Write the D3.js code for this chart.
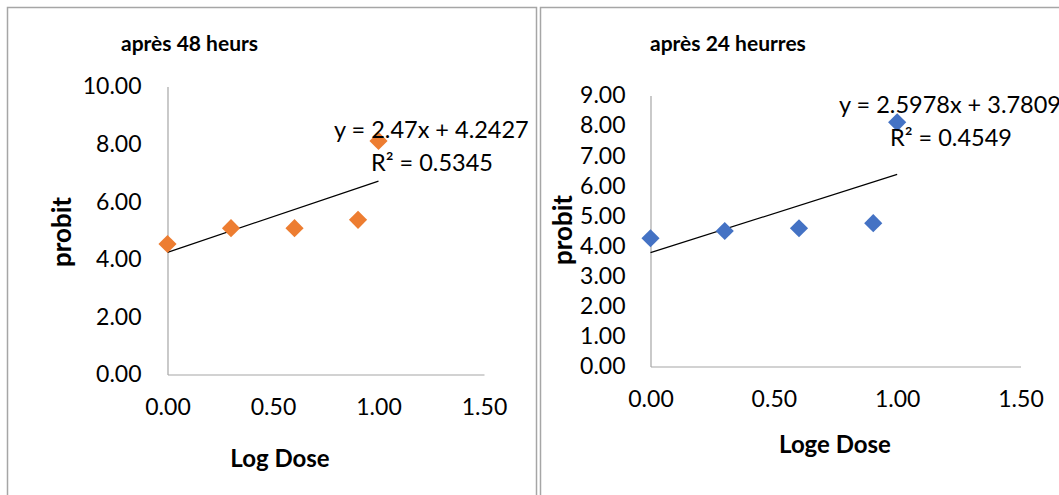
<!DOCTYPE html>
<html>
<head>
<meta charset="utf-8">
<script src="https://cdn.jsdelivr.net/npm/d3@7"></script>
<style>
  body { margin: 0; background: #fff; }
  svg text { font-family: Lato, "Open Sans", sans-serif; fill: #000; }
</style>
</head>
<body>
<div id="chart"></div>
<script>
// log doses (log10 of 1, 2, 4, 8, 10)
const logDose = [0, 0.301, 0.602, 0.903, 1.0];
const probit48 = [4.53, 5.08, 5.08, 5.37, 8.11];
const probit24 = [4.26, 4.50, 4.59, 4.76, 8.11];
const xTicks = [0, 0.5, 1.0, 1.5];
const yTicks48 = [0, 2, 4, 6, 8, 10];
const yTicks24 = [0, 1, 2, 3, 4, 5, 6, 7, 8, 9];
const trend48 = [2.47, 4.2427];
const trend24 = [2.5978, 3.7809];
const eqLabels48 = ['y = 2.47x + 4.2427', 'R² = 0.5345'];
const eqLabels24 = ['y = 2.5978x + 3.7809', 'R² = 0.4549'];

const W = 1059, H = 495;
const fmt = d3.format('.2f');

const svg = d3.select('#chart')
  .append('svg')
  .attr('width', W)
  .attr('height', H);

// panel frames
svg.append('path')
  .attr('d', 'M7.5,495 V7.5 H536.5 V495')
  .attr('fill', 'none')
  .attr('stroke', '#a6a6a6')
  .attr('stroke-width', 1.5);
svg.append('path')
  .attr('d', 'M540.5,495 V7.5 H1059')
  .attr('fill', 'none')
  .attr('stroke', '#a6a6a6')
  .attr('stroke-width', 1.5);

function drawPanel(cfg) {
  const g = svg.append('g');

  const x = d3.scaleLinear().domain([0, 1.5]).range([cfg.x0, cfg.x1]);
  const y = d3.scaleLinear().domain([0, cfg.yMax]).range([cfg.y0, cfg.y1]);

  // y axis
  const yAxis = g.append('g')
    .attr('transform', `translate(${cfg.x0},0)`)
    .call(d3.axisLeft(y).tickValues(cfg.yTicks).tickFormat(fmt).tickSize(0).tickPadding(cfg.yPad));
  yAxis.select('.domain').attr('stroke', '#a6a6a6').attr('stroke-width', 1.2);
  yAxis.selectAll('text').style('font-size', '23px');

  // x axis
  const xAxis = g.append('g')
    .attr('transform', `translate(0,${cfg.y0})`)
    .call(d3.axisBottom(x).tickValues(xTicks).tickFormat(fmt).tickSize(0).tickPadding(cfg.xPad));
  xAxis.select('.domain').attr('stroke', '#a6a6a6').attr('stroke-width', 1.2);
  xAxis.selectAll('text').style('font-size', '23px');

  // trend line from min to max dose
  const ext = d3.extent(logDose);
  g.append('line')
    .attr('x1', x(ext[0]))
    .attr('y1', y(cfg.trend[0] * ext[0] + cfg.trend[1]))
    .attr('x2', x(ext[1]))
    .attr('y2', y(cfg.trend[0] * ext[1] + cfg.trend[1]))
    .attr('stroke', '#000')
    .attr('stroke-width', 1.2);

  // markers
  const diamond = d3.symbol().type(d3.symbolSquare).size(165);
  g.selectAll('path.pt')
    .data(logDose.map((d, i) => [d, cfg.values[i]]))
    .enter().append('path')
      .attr('class', 'pt')
      .attr('d', diamond)
      .attr('transform', d => `translate(${x(d[0])},${y(d[1])}) rotate(45)`)
      .attr('fill', cfg.color);

  // equation labels
  g.append('text')
    .attr('x', cfg.eqX).attr('y', cfg.eqY)
    .attr('dominant-baseline', 'central')
    .style('font-size', '23.5px')
    .text(cfg.labels[0]);
  g.append('text')
    .attr('x', cfg.r2X).attr('y', cfg.r2Y)
    .attr('dominant-baseline', 'central')
    .style('font-size', '23.5px')
    .text(cfg.labels[1]);

  // titles
  g.append('text')
    .attr('x', cfg.titleX).attr('y', 42)
    .attr('dominant-baseline', 'central')
    .style('font-size', '21px')
    .style('font-weight', 'bold')
    .text(cfg.title);
  g.append('text')
    .attr('x', cfg.xTitleX).attr('y', cfg.xTitleY)
    .attr('text-anchor', 'middle')
    .attr('dominant-baseline', 'central')
    .style('font-size', '24px')
    .style('font-weight', 'bold')
    .text(cfg.xTitle);
  g.append('text')
    .attr('transform', `translate(${cfg.yTitleX},${cfg.yTitleY}) rotate(-90)`)
    .attr('text-anchor', 'middle')
    .attr('dominant-baseline', 'central')
    .style('font-size', '26px')
    .style('font-weight', 'bold')
    .text('probit');
}

drawPanel({
  x0: 167.5, x1: 484, y0: 374.5, y1: 86.5, yMax: 10,
  yTicks: yTicks48, yPad: 26, xPad: 24,
  values: probit48, trend: trend48, color: '#ED7D31',
  labels: eqLabels48, eqX: 334, eqY: 129, r2X: 371, r2Y: 162,
  title: 'après 48 heurs', titleX: 121,
  xTitle: 'Log Dose', xTitleX: 280, xTitleY: 457,
  yTitleX: 61, yTitleY: 232
});

drawPanel({
  x0: 650.5, x1: 1020.5, y0: 366.5, y1: 95.5, yMax: 9,
  yTicks: yTicks24, yPad: 25, xPad: 24,
  values: probit24, trend: trend24, color: '#4472C4',
  labels: eqLabels24, eqX: 839, eqY: 104, r2X: 890, r2Y: 137,
  title: 'après 24 heurres', titleX: 650,
  xTitle: 'Loge Dose', xTitleX: 835, xTitleY: 443,
  yTitleX: 562, yTitleY: 230
});
</script>
</body>
</html>
